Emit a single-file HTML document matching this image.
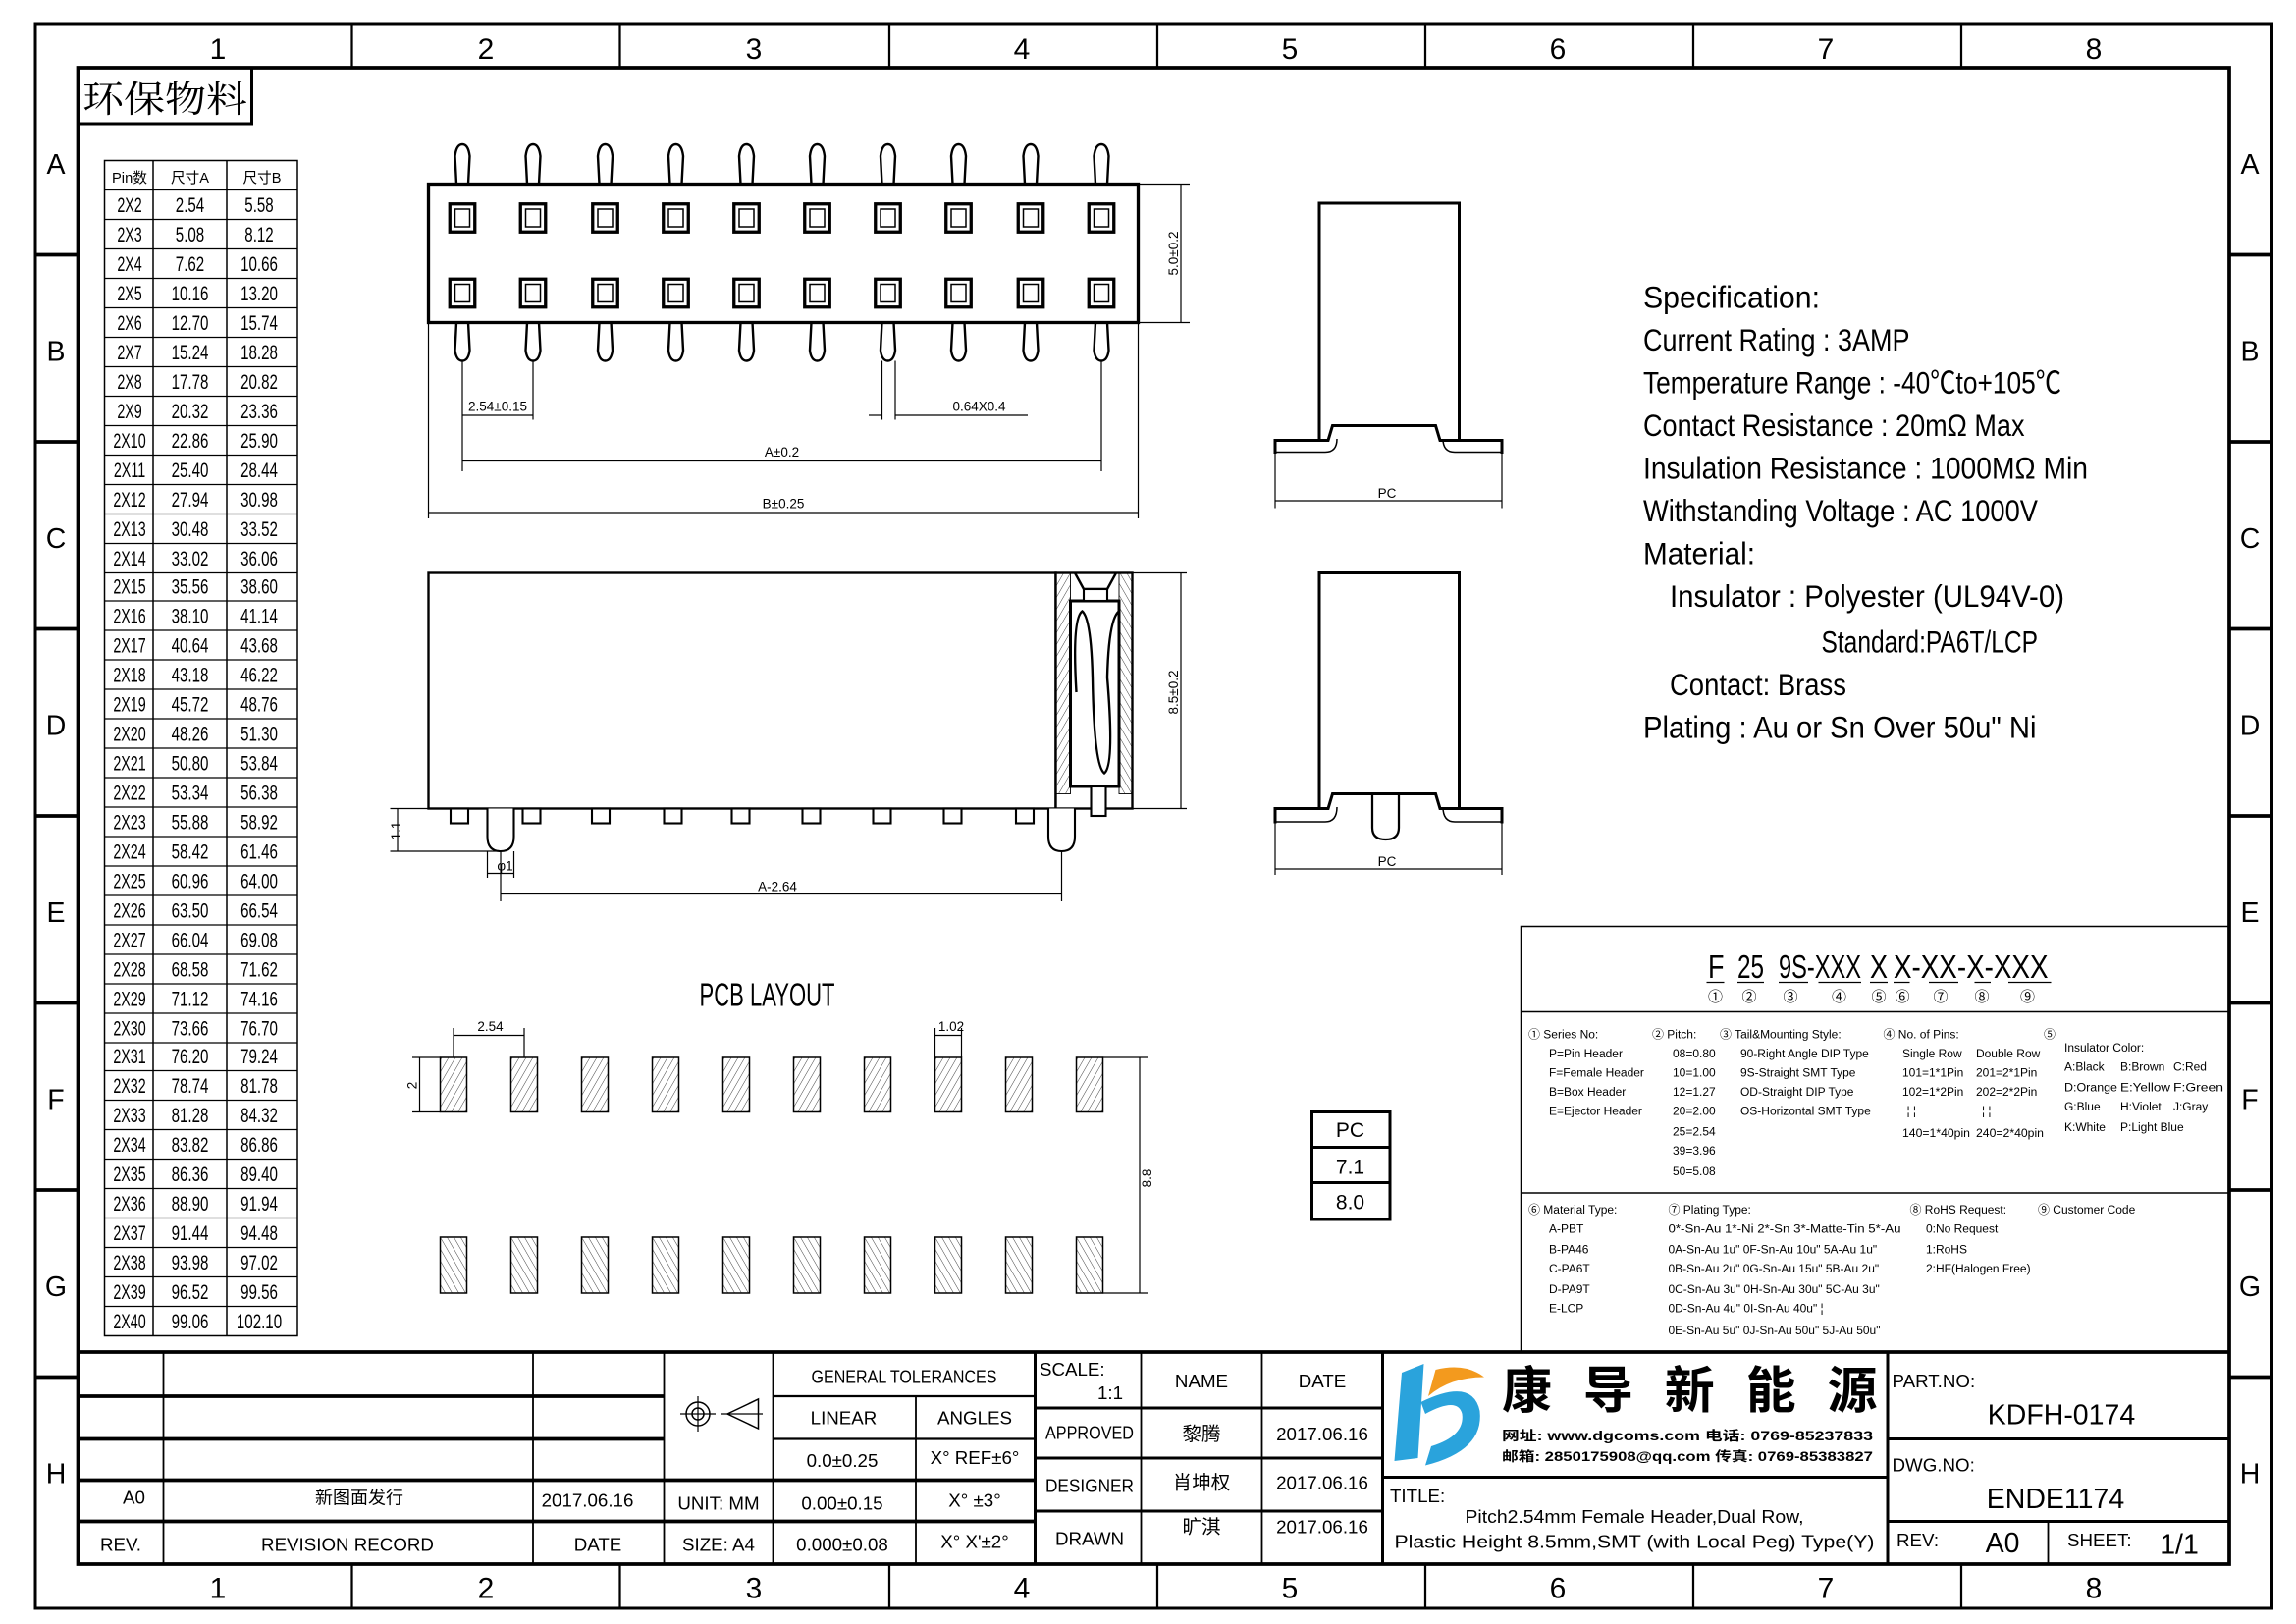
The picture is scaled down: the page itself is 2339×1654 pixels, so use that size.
<!DOCTYPE html>
<html><head><meta charset="utf-8"><style>
html,body{margin:0;padding:0;background:#fff}
svg{display:block}
text{font-family:"Liberation Sans Narrow","Liberation Sans","Noto Sans CJK SC",sans-serif;fill:#000}
.c{font-family:"Liberation Sans","Noto Sans CJK SC",sans-serif}
.m{text-anchor:middle}
</style></head><body>
<svg width="2339" height="1654" viewBox="0 0 1559.33 1102.67" xmlns="http://www.w3.org/2000/svg">
<defs>
<pattern id="h1" width="4" height="4" patternUnits="userSpaceOnUse" patternTransform="rotate(30)"><line x1="0" y1="0" x2="0" y2="4" stroke="#000" stroke-width="0.5"/></pattern>
<pattern id="h2" width="4" height="4" patternUnits="userSpaceOnUse" patternTransform="rotate(-30)"><line x1="0" y1="0" x2="0" y2="4" stroke="#000" stroke-width="0.5"/></pattern>
<g id="pinT"><path d="M-4,125 L-5,106 Q-4,98 0,98 Q4,98 5,106 L4,125" fill="#fff" stroke="#000" stroke-width="1.6"/></g>
<g id="pinB"><path d="M-4,219 L-5,238 Q-4,245 0,245 Q4,245 5,238 L4,219" fill="#fff" stroke="#000" stroke-width="1.6"/></g>
<g id="sq"><rect x="-8.5" y="-9.5" width="17" height="19" fill="#fff" stroke="#000" stroke-width="2.2"/><rect x="-5" y="-6" width="10" height="12" fill="none" stroke="#000" stroke-width="1"/></g>
<g id="padU"><rect x="-9" y="718" width="18" height="37" fill="url(#h1)" stroke="#000" stroke-width="1"/></g>
<g id="padL"><rect x="-9" y="840" width="18" height="38" fill="url(#h2)" stroke="#000" stroke-width="1"/></g>
<g id="sp"><rect x="0" y="549" width="12" height="10" fill="#fff" stroke="#000" stroke-width="1.4"/></g>
</defs>

<!-- frame -->
<rect x="24" y="16" width="1519" height="1076" fill="none" stroke="#000" stroke-width="2"/>
<rect x="53" y="46" width="1461" height="1016" fill="none" stroke="#000" stroke-width="2.5"/>
<g stroke="#000" stroke-width="1.5">
<line x1="239" y1="16" x2="239" y2="46"/><line x1="421" y1="16" x2="421" y2="46"/><line x1="604" y1="16" x2="604" y2="46"/><line x1="786" y1="16" x2="786" y2="46"/><line x1="968" y1="16" x2="968" y2="46"/><line x1="1150" y1="16" x2="1150" y2="46"/><line x1="1332" y1="16" x2="1332" y2="46"/>
<line x1="239" y1="1062" x2="239" y2="1092"/><line x1="421" y1="1062" x2="421" y2="1092"/><line x1="604" y1="1062" x2="604" y2="1092"/><line x1="786" y1="1062" x2="786" y2="1092"/><line x1="968" y1="1062" x2="968" y2="1092"/><line x1="1150" y1="1062" x2="1150" y2="1092"/><line x1="1332" y1="1062" x2="1332" y2="1092"/>
</g>
<g stroke="#000" stroke-width="2.5">
<line x1="24" y1="173" x2="53" y2="173"/><line x1="24" y1="300" x2="53" y2="300"/><line x1="24" y1="427" x2="53" y2="427"/><line x1="24" y1="554" x2="53" y2="554"/><line x1="24" y1="681" x2="53" y2="681"/><line x1="24" y1="808" x2="53" y2="808"/><line x1="24" y1="935" x2="53" y2="935"/>
<line x1="1514" y1="173" x2="1543" y2="173"/><line x1="1514" y1="300" x2="1543" y2="300"/><line x1="1514" y1="427" x2="1543" y2="427"/><line x1="1514" y1="554" x2="1543" y2="554"/><line x1="1514" y1="681" x2="1543" y2="681"/><line x1="1514" y1="808" x2="1543" y2="808"/><line x1="1514" y1="935" x2="1543" y2="935"/>
</g>
<g font-size="20">
<text x="148" y="40" class="m">1</text><text x="330" y="40" class="m">2</text><text x="512" y="40" class="m">3</text><text x="694" y="40" class="m">4</text><text x="876" y="40" class="m">5</text><text x="1058" y="40" class="m">6</text><text x="1240" y="40" class="m">7</text><text x="1422" y="40" class="m">8</text>
<text x="148" y="1085" class="m">1</text><text x="330" y="1085" class="m">2</text><text x="512" y="1085" class="m">3</text><text x="694" y="1085" class="m">4</text><text x="876" y="1085" class="m">5</text><text x="1058" y="1085" class="m">6</text><text x="1240" y="1085" class="m">7</text><text x="1422" y="1085" class="m">8</text>
</g>
<g font-size="19">
<text x="38" y="118" class="m">A</text><text x="38" y="245" class="m">B</text><text x="38" y="372" class="m">C</text><text x="38" y="499" class="m">D</text><text x="38" y="626" class="m">E</text><text x="38" y="753" class="m">F</text><text x="38" y="880" class="m">G</text><text x="38" y="1007" class="m">H</text>
<text x="1528" y="118" class="m">A</text><text x="1528" y="245" class="m">B</text><text x="1528" y="372" class="m">C</text><text x="1528" y="499" class="m">D</text><text x="1528" y="626" class="m">E</text><text x="1528" y="753" class="m">F</text><text x="1528" y="880" class="m">G</text><text x="1528" y="1007" class="m">H</text>
</g>

<!-- title stamp -->
<rect x="53" y="46" width="118" height="38" fill="none" stroke="#000" stroke-width="2"/>
<text x="56" y="76" font-size="25" class="c" textLength="112" lengthAdjust="spacingAndGlyphs" style="font-family:'Noto Serif CJK SC','Noto Sans CJK SC',serif">环保物料</text>

<!-- pin table -->
<g stroke="#000" stroke-width="1" fill="none">
<rect x="71" y="109" width="131" height="798"/>
<line x1="104" y1="109" x2="104" y2="907"/><line x1="154" y1="109" x2="154" y2="907"/>
</g>
<g stroke="#000" stroke-width="0.8">
<line x1="71" y1="129" x2="202" y2="129"/><line x1="71" y1="149" x2="202" y2="149"/><line x1="71" y1="169" x2="202" y2="169"/><line x1="71" y1="189" x2="202" y2="189"/><line x1="71" y1="209" x2="202" y2="209"/><line x1="71" y1="229" x2="202" y2="229"/><line x1="71" y1="249" x2="202" y2="249"/><line x1="71" y1="269" x2="202" y2="269"/><line x1="71" y1="289" x2="202" y2="289"/><line x1="71" y1="309" x2="202" y2="309"/><line x1="71" y1="329" x2="202" y2="329"/><line x1="71" y1="349" x2="202" y2="349"/><line x1="71" y1="369" x2="202" y2="369"/><line x1="71" y1="389" x2="202" y2="389"/><line x1="71" y1="408" x2="202" y2="408"/><line x1="71" y1="428" x2="202" y2="428"/><line x1="71" y1="448" x2="202" y2="448"/><line x1="71" y1="468" x2="202" y2="468"/><line x1="71" y1="488" x2="202" y2="488"/><line x1="71" y1="508" x2="202" y2="508"/><line x1="71" y1="528" x2="202" y2="528"/><line x1="71" y1="548" x2="202" y2="548"/><line x1="71" y1="568" x2="202" y2="568"/><line x1="71" y1="588" x2="202" y2="588"/><line x1="71" y1="608" x2="202" y2="608"/><line x1="71" y1="628" x2="202" y2="628"/><line x1="71" y1="648" x2="202" y2="648"/><line x1="71" y1="668" x2="202" y2="668"/><line x1="71" y1="688" x2="202" y2="688"/><line x1="71" y1="708" x2="202" y2="708"/><line x1="71" y1="727" x2="202" y2="727"/><line x1="71" y1="747" x2="202" y2="747"/><line x1="71" y1="767" x2="202" y2="767"/><line x1="71" y1="787" x2="202" y2="787"/><line x1="71" y1="807" x2="202" y2="807"/><line x1="71" y1="827" x2="202" y2="827"/><line x1="71" y1="847" x2="202" y2="847"/><line x1="71" y1="867" x2="202" y2="867"/><line x1="71" y1="887" x2="202" y2="887"/>
</g>
<g font-size="10" class="c">
<text x="88" y="124" class="m c" textLength="24" lengthAdjust="spacingAndGlyphs">Pin数</text><text x="129" y="124" class="m c" textLength="26" lengthAdjust="spacingAndGlyphs">尺寸A</text><text x="178" y="124" class="m c" textLength="26" lengthAdjust="spacingAndGlyphs">尺寸B</text>
</g>
<g font-size="14" transform="translate(88,0) scale(0.68,1)" text-anchor="middle">
<text x="0" y="144">2X2</text><text x="0" y="164">2X3</text><text x="0" y="184">2X4</text><text x="0" y="204">2X5</text><text x="0" y="224">2X6</text><text x="0" y="244">2X7</text><text x="0" y="264">2X8</text><text x="0" y="284">2X9</text><text x="0" y="304">2X10</text><text x="0" y="324">2X11</text><text x="0" y="344">2X12</text><text x="0" y="364">2X13</text><text x="0" y="384">2X14</text><text x="0" y="403">2X15</text><text x="0" y="423">2X16</text><text x="0" y="443">2X17</text><text x="0" y="463">2X18</text><text x="0" y="483">2X19</text><text x="0" y="503">2X20</text><text x="0" y="523">2X21</text><text x="0" y="543">2X22</text><text x="0" y="563">2X23</text><text x="0" y="583">2X24</text><text x="0" y="603">2X25</text><text x="0" y="623">2X26</text><text x="0" y="643">2X27</text><text x="0" y="663">2X28</text><text x="0" y="683">2X29</text><text x="0" y="703">2X30</text><text x="0" y="722">2X31</text><text x="0" y="742">2X32</text><text x="0" y="762">2X33</text><text x="0" y="782">2X34</text><text x="0" y="802">2X35</text><text x="0" y="822">2X36</text><text x="0" y="842">2X37</text><text x="0" y="862">2X38</text><text x="0" y="882">2X39</text><text x="0" y="902">2X40</text>
</g>
<g font-size="14" transform="translate(129,0) scale(0.72,1)" text-anchor="middle">
<text x="0" y="144">2.54</text><text x="0" y="164">5.08</text><text x="0" y="184">7.62</text><text x="0" y="204">10.16</text><text x="0" y="224">12.70</text><text x="0" y="244">15.24</text><text x="0" y="264">17.78</text><text x="0" y="284">20.32</text><text x="0" y="304">22.86</text><text x="0" y="324">25.40</text><text x="0" y="344">27.94</text><text x="0" y="364">30.48</text><text x="0" y="384">33.02</text><text x="0" y="403">35.56</text><text x="0" y="423">38.10</text><text x="0" y="443">40.64</text><text x="0" y="463">43.18</text><text x="0" y="483">45.72</text><text x="0" y="503">48.26</text><text x="0" y="523">50.80</text><text x="0" y="543">53.34</text><text x="0" y="563">55.88</text><text x="0" y="583">58.42</text><text x="0" y="603">60.96</text><text x="0" y="623">63.50</text><text x="0" y="643">66.04</text><text x="0" y="663">68.58</text><text x="0" y="683">71.12</text><text x="0" y="703">73.66</text><text x="0" y="722">76.20</text><text x="0" y="742">78.74</text><text x="0" y="762">81.28</text><text x="0" y="782">83.82</text><text x="0" y="802">86.36</text><text x="0" y="822">88.90</text><text x="0" y="842">91.44</text><text x="0" y="862">93.98</text><text x="0" y="882">96.52</text><text x="0" y="902">99.06</text>
</g>
<g font-size="14" transform="translate(176,0) scale(0.72,1)" text-anchor="middle">
<text x="0" y="144">5.58</text><text x="0" y="164">8.12</text><text x="0" y="184">10.66</text><text x="0" y="204">13.20</text><text x="0" y="224">15.74</text><text x="0" y="244">18.28</text><text x="0" y="264">20.82</text><text x="0" y="284">23.36</text><text x="0" y="304">25.90</text><text x="0" y="324">28.44</text><text x="0" y="344">30.98</text><text x="0" y="364">33.52</text><text x="0" y="384">36.06</text><text x="0" y="403">38.60</text><text x="0" y="423">41.14</text><text x="0" y="443">43.68</text><text x="0" y="463">46.22</text><text x="0" y="483">48.76</text><text x="0" y="503">51.30</text><text x="0" y="523">53.84</text><text x="0" y="543">56.38</text><text x="0" y="563">58.92</text><text x="0" y="583">61.46</text><text x="0" y="603">64.00</text><text x="0" y="623">66.54</text><text x="0" y="643">69.08</text><text x="0" y="663">71.62</text><text x="0" y="683">74.16</text><text x="0" y="703">76.70</text><text x="0" y="722">79.24</text><text x="0" y="742">81.78</text><text x="0" y="762">84.32</text><text x="0" y="782">86.86</text><text x="0" y="802">89.40</text><text x="0" y="822">91.94</text><text x="0" y="842">94.48</text><text x="0" y="862">97.02</text><text x="0" y="882">99.56</text><text x="0" y="902">102.10</text>
</g>

<!-- top view -->
<g>
<use href="#pinT" x="314"/><use href="#pinT" x="362"/><use href="#pinT" x="411"/><use href="#pinT" x="459"/><use href="#pinT" x="507"/><use href="#pinT" x="555"/><use href="#pinT" x="603"/><use href="#pinT" x="651"/><use href="#pinT" x="700"/><use href="#pinT" x="748"/>
<use href="#pinB" x="314"/><use href="#pinB" x="362"/><use href="#pinB" x="411"/><use href="#pinB" x="459"/><use href="#pinB" x="507"/><use href="#pinB" x="555"/><use href="#pinB" x="603"/><use href="#pinB" x="651"/><use href="#pinB" x="700"/><use href="#pinB" x="748"/>
<rect x="291" y="125" width="482" height="94" fill="#fff" stroke="#000" stroke-width="2.2"/>
<use href="#sq" x="314" y="148"/><use href="#sq" x="362" y="148"/><use href="#sq" x="411" y="148"/><use href="#sq" x="459" y="148"/><use href="#sq" x="507" y="148"/><use href="#sq" x="555" y="148"/><use href="#sq" x="603" y="148"/><use href="#sq" x="651" y="148"/><use href="#sq" x="700" y="148"/><use href="#sq" x="748" y="148"/>
<use href="#sq" x="314" y="199"/><use href="#sq" x="362" y="199"/><use href="#sq" x="411" y="199"/><use href="#sq" x="459" y="199"/><use href="#sq" x="507" y="199"/><use href="#sq" x="555" y="199"/><use href="#sq" x="603" y="199"/><use href="#sq" x="651" y="199"/><use href="#sq" x="700" y="199"/><use href="#sq" x="748" y="199"/>
</g>
<g stroke="#000" stroke-width="0.8" fill="none">
<line x1="773" y1="125" x2="808" y2="125"/><line x1="773" y1="219" x2="808" y2="219"/><line x1="802" y1="125" x2="802" y2="219"/>
<line x1="314" y1="245" x2="314" y2="320"/><line x1="362" y1="245" x2="362" y2="285"/><line x1="314" y1="282" x2="362" y2="282"/>
<line x1="599" y1="245" x2="599" y2="285"/><line x1="608" y1="245" x2="608" y2="285"/><line x1="590" y1="282" x2="599" y2="282"/><line x1="608" y1="282" x2="698" y2="282"/>
<line x1="748" y1="245" x2="748" y2="320"/><line x1="314" y1="313" x2="748" y2="313"/>
<line x1="291" y1="219" x2="291" y2="352"/><line x1="773" y1="219" x2="773" y2="352"/><line x1="291" y1="348" x2="773" y2="348"/>
</g>
<g font-size="9">
<text x="338" y="279" class="m">2.54±0.15</text><text x="665" y="279" class="m">0.64X0.4</text><text x="531" y="310" class="m">A±0.2</text><text x="532" y="345" class="m">B±0.25</text>
<text transform="translate(800,172) rotate(-90)" class="m">5.0±0.2</text>
</g>

<!-- side view -->
<g stroke="#000" fill="#fff">
<rect x="291" y="389" width="426" height="160" stroke-width="1.6"/>
<rect x="717" y="389" width="52" height="160" stroke-width="1.6"/>
<rect x="717" y="389" width="10" height="150" fill="url(#h1)" stroke-width="0.6"/>
<rect x="760" y="389" width="9" height="150" fill="url(#h2)" stroke-width="0.6"/>
<rect x="727" y="408" width="33" height="126" stroke-width="2"/>
<path d="M731,470 Q728,420 735,415 Q741,420 742,460 Q743,520 750,525 Q757,520 752,460 Q753,420 760,415" fill="none" stroke-width="1.6"/>
<path d="M730,389 L736,400 L752,400 L758,389" fill="none" stroke-width="1.6"/>
<rect x="736" y="400" width="16" height="8" stroke-width="1.4"/>
<rect x="741" y="534" width="10" height="20" stroke-width="1.4"/>
<use href="#sp" x="306"/><use href="#sp" x="355"/><use href="#sp" x="402"/><use href="#sp" x="451"/><use href="#sp" x="497"/><use href="#sp" x="545"/><use href="#sp" x="593"/><use href="#sp" x="641"/><use href="#sp" x="690"/>
<path d="M331,549 L331,568 Q331,578 340,578 Q349,578 349,568 L349,549" stroke-width="1.4"/>
<path d="M712,549 L712,568 Q712,578 721,578 Q730,578 730,568 L730,549" stroke-width="1.4"/>
</g>
<g stroke="#000" stroke-width="0.8" fill="none">
<line x1="769" y1="389" x2="806" y2="389"/><line x1="769" y1="549" x2="806" y2="549"/><line x1="802" y1="389" x2="802" y2="549"/>
<line x1="265" y1="549" x2="291" y2="549"/><line x1="265" y1="578" x2="340" y2="578"/><line x1="270" y1="549" x2="270" y2="578"/>
<line x1="331" y1="578" x2="331" y2="596"/><line x1="349" y1="578" x2="349" y2="596"/><line x1="331" y1="593" x2="349" y2="593"/>
<line x1="340" y1="578" x2="340" y2="612"/><line x1="721" y1="578" x2="721" y2="612"/><line x1="340" y1="607" x2="721" y2="607"/>
</g>
<g font-size="9">
<text transform="translate(800,470) rotate(-90)" class="m">8.5±0.2</text>
<text transform="translate(272,564) rotate(-90)" class="m">1.1</text>
<text x="343" y="591" class="m">φ1</text>
<text x="528" y="605" class="m">A-2.64</text>
</g>

<!-- end views -->
<g stroke="#000" fill="none" stroke-width="2">
<path d="M896,299 L896,138 L991,138 L991,299 L978,299 L975,289 L905,289 L902,299 Z"/>
<path d="M866,299 L896,299 M991,299 L1020,299"/>
<path d="M866,307 L900,307 Q908,307 908,298 M980,298 Q980,307 988,307 L1020,307" stroke-width="1"/>
<line x1="866" y1="298" x2="866" y2="308"/><line x1="1020" y1="298" x2="1020" y2="308"/>
<path d="M896,549 L896,389 L991,389 L991,549 L978,549 L975,539 L905,539 L902,549 Z"/>
<path d="M866,549 L896,549 M991,549 L1020,549"/>
<path d="M866,558 L900,558 Q908,558 908,548 M980,548 Q980,558 988,558 L1020,558" stroke-width="1"/>
<line x1="866" y1="548" x2="866" y2="559"/><line x1="1020" y1="548" x2="1020" y2="559"/>
<path d="M932,539 L932,562 Q932,570 941,570 Q950,570 950,562 L950,539" stroke-width="1.5"/>
</g>
<g stroke="#000" stroke-width="0.8">
<line x1="866" y1="308" x2="866" y2="345"/><line x1="1020" y1="308" x2="1020" y2="345"/><line x1="866" y1="340" x2="1020" y2="340"/>
<line x1="866" y1="559" x2="866" y2="594"/><line x1="1020" y1="559" x2="1020" y2="594"/><line x1="866" y1="590" x2="1020" y2="590"/>
</g>
<text x="942" y="338" font-size="9" class="m">PC</text>
<text x="942" y="588" font-size="9" class="m">PC</text>

<!-- spec -->
<g font-size="21">
<text x="1116" y="209" textLength="120" lengthAdjust="spacingAndGlyphs">Specification:</text>
<text x="1116" y="238" textLength="181" lengthAdjust="spacingAndGlyphs">Current Rating : 3AMP</text>
<text x="1116" y="267" textLength="284" lengthAdjust="spacingAndGlyphs">Temperature Range : -40℃to+105℃</text>
<text x="1116" y="296" textLength="259" lengthAdjust="spacingAndGlyphs">Contact Resistance : 20mΩ Max</text>
<text x="1116" y="325" textLength="302" lengthAdjust="spacingAndGlyphs">Insulation Resistance : 1000MΩ Min</text>
<text x="1116" y="354" textLength="268" lengthAdjust="spacingAndGlyphs">Withstanding Voltage : AC 1000V</text>
<text x="1116" y="383" textLength="76" lengthAdjust="spacingAndGlyphs">Material:</text>
<text x="1134" y="412" textLength="268" lengthAdjust="spacingAndGlyphs">Insulator : Polyester (UL94V-0)</text>
<text x="1237" y="443" textLength="147" lengthAdjust="spacingAndGlyphs">Standard:PA6T/LCP</text>
<text x="1134" y="472" textLength="120" lengthAdjust="spacingAndGlyphs">Contact: Brass</text>
<text x="1116" y="501" textLength="267" lengthAdjust="spacingAndGlyphs">Plating : Au or Sn Over 50u" Ni</text>
</g>

<!-- part number block -->
<rect x="1033" y="629" width="481" height="289" fill="none" stroke="#000" stroke-width="1"/>
<line x1="1033" y1="687" x2="1514" y2="687" stroke="#000" stroke-width="1"/>
<line x1="1033" y1="810" x2="1514" y2="810" stroke="#000" stroke-width="1"/>
<g font-size="22">
<text x="1160" y="664" textLength="11" lengthAdjust="spacingAndGlyphs">F</text>
<text x="1180" y="664" textLength="18" lengthAdjust="spacingAndGlyphs">25</text>
<text x="1208" y="664" textLength="56" lengthAdjust="spacingAndGlyphs">9S-XXX</text>
<text x="1270" y="664" textLength="12" lengthAdjust="spacingAndGlyphs">X</text>
<text x="1286" y="664" textLength="105" lengthAdjust="spacingAndGlyphs">X-XX-X-XXX</text>
</g>
<g stroke="#000" stroke-width="0.8">
<line x1="1159" y1="667" x2="1171" y2="667"/><line x1="1180" y1="667" x2="1198" y2="667"/><line x1="1208" y1="667" x2="1228" y2="667"/><line x1="1235" y1="667" x2="1264" y2="667"/><line x1="1270" y1="667" x2="1282" y2="667"/><line x1="1286" y1="667" x2="1297" y2="667"/><line x1="1310" y1="667" x2="1330" y2="667"/><line x1="1341" y1="667" x2="1352" y2="667"/><line x1="1364" y1="667" x2="1393" y2="667"/>
</g>
<g font-size="10" class="c">
<text x="1165" y="680" class="m c">①</text><text x="1188" y="680" class="m c">②</text><text x="1216" y="680" class="m c">③</text><text x="1249" y="680" class="m c">④</text><text x="1276" y="680" class="m c">⑤</text><text x="1292" y="680" class="m c">⑥</text><text x="1318" y="680" class="m c">⑦</text><text x="1346" y="680" class="m c">⑧</text><text x="1377" y="680" class="m c">⑨</text>
</g>
<g font-size="8">
<text x="1038" y="705">① Series No:</text>
<text x="1052" y="718">P=Pin Header</text><text x="1052" y="731">F=Female Header</text><text x="1052" y="744">B=Box Header</text><text x="1052" y="757">E=Ejector Header</text>
<text x="1122" y="705">② Pitch:</text>
<text x="1136" y="718">08=0.80</text><text x="1136" y="731">10=1.00</text><text x="1136" y="744">12=1.27</text><text x="1136" y="757">20=2.00</text><text x="1136" y="771">25=2.54</text><text x="1136" y="784">39=3.96</text><text x="1136" y="798">50=5.08</text>
<text x="1168" y="705">③ Tail&amp;Mounting Style:</text>
<text x="1182" y="718">90-Right Angle DIP Type</text><text x="1182" y="731">9S-Straight SMT Type</text><text x="1182" y="744">OD-Straight DIP Type</text><text x="1182" y="757">OS-Horizontal SMT Type</text>
<text x="1279" y="705">④ No. of Pins:</text>
<text x="1292" y="718">Single Row</text><text x="1342" y="718">Double Row</text>
<text x="1292" y="731">101=1*1Pin</text><text x="1342" y="731">201=2*1Pin</text>
<text x="1292" y="744">102=1*2Pin</text><text x="1342" y="744">202=2*2Pin</text>
<text x="1295" y="757">¦  ¦</text><text x="1346" y="757">¦  ¦</text>
<text x="1292" y="772" textLength="46" lengthAdjust="spacingAndGlyphs">140=1*40pin</text><text x="1342" y="772" textLength="46" lengthAdjust="spacingAndGlyphs">240=2*40pin</text>
<text x="1388" y="705">⑤</text>
<text x="1402" y="714">Insulator Color:</text>
<text x="1402" y="727">A:Black</text><text x="1440" y="727">B:Brown</text><text x="1476" y="727">C:Red</text>
<text x="1402" y="741" textLength="36" lengthAdjust="spacingAndGlyphs">D:Orange</text><text x="1440" y="741" textLength="34" lengthAdjust="spacingAndGlyphs">E:Yellow</text><text x="1476" y="741" textLength="34" lengthAdjust="spacingAndGlyphs">F:Green</text>
<text x="1402" y="754">G:Blue</text><text x="1440" y="754">H:Violet</text><text x="1476" y="754">J:Gray</text>
<text x="1402" y="768">K:White</text><text x="1440" y="768">P:Light Blue</text>
<text x="1038" y="824">⑥ Material Type:</text>
<text x="1052" y="837">A-PBT</text><text x="1052" y="851">B-PA46</text><text x="1052" y="864">C-PA6T</text><text x="1052" y="878">D-PA9T</text><text x="1052" y="891">E-LCP</text>
<text x="1133" y="824">⑦ Plating Type:</text>
<text x="1133" y="837" textLength="158" lengthAdjust="spacingAndGlyphs">0*-Sn-Au 1*-Ni 2*-Sn 3*-Matte-Tin 5*-Au</text>
<text x="1133" y="851">0A-Sn-Au 1u" 0F-Sn-Au 10u"  5A-Au 1u"</text>
<text x="1133" y="864">0B-Sn-Au 2u" 0G-Sn-Au 15u"  5B-Au 2u"</text>
<text x="1133" y="878">0C-Sn-Au 3u" 0H-Sn-Au 30u"  5C-Au 3u"</text>
<text x="1133" y="891">0D-Sn-Au 4u" 0I-Sn-Au 40u"      ¦</text>
<text x="1133" y="906">0E-Sn-Au 5u" 0J-Sn-Au 50u"  5J-Au 50u"</text>
<text x="1297" y="824">⑧ RoHS Request:</text>
<text x="1308" y="837">0:No Request</text><text x="1308" y="851">1:RoHS</text><text x="1308" y="864">2:HF(Halogen Free)</text>
<text x="1384" y="824">⑨ Customer Code</text>
</g>

<!-- PCB layout -->
<text x="521" y="683" font-size="22" class="m" textLength="92" lengthAdjust="spacingAndGlyphs">PCB LAYOUT</text>
<use href="#padU" x="308"/><use href="#padU" x="356"/><use href="#padU" x="404"/><use href="#padU" x="452"/><use href="#padU" x="500"/><use href="#padU" x="548"/><use href="#padU" x="596"/><use href="#padU" x="644"/><use href="#padU" x="692"/><use href="#padU" x="740"/>
<use href="#padL" x="308"/><use href="#padL" x="356"/><use href="#padL" x="404"/><use href="#padL" x="452"/><use href="#padL" x="500"/><use href="#padL" x="548"/><use href="#padL" x="596"/><use href="#padL" x="644"/><use href="#padL" x="692"/><use href="#padL" x="740"/>
<g stroke="#000" stroke-width="0.8">
<line x1="308" y1="718" x2="308" y2="698"/><line x1="356" y1="718" x2="356" y2="698"/><line x1="308" y1="703" x2="356" y2="703"/>
<line x1="635" y1="718" x2="635" y2="698"/><line x1="653" y1="718" x2="653" y2="698"/><line x1="635" y1="703" x2="653" y2="703"/>
<line x1="280" y1="718" x2="299" y2="718"/><line x1="280" y1="755" x2="299" y2="755"/><line x1="285" y1="718" x2="285" y2="755"/>
<line x1="749" y1="718" x2="780" y2="718"/><line x1="749" y1="878" x2="780" y2="878"/><line x1="774" y1="718" x2="774" y2="878"/>
</g>
<g font-size="9">
<text x="333" y="700" class="m">2.54</text><text x="646" y="700" class="m">1.02</text>
<text transform="translate(283,737) rotate(-90)" class="m">2</text>
<text transform="translate(782,800) rotate(-90)" class="m">8.8</text>
</g>
<!-- PC table -->
<rect x="891" y="755" width="53" height="73" fill="none" stroke="#000" stroke-width="2"/>
<line x1="891" y1="779" x2="944" y2="779" stroke="#000" stroke-width="2"/><line x1="891" y1="803" x2="944" y2="803" stroke="#000" stroke-width="2"/>
<g font-size="14" class="c"><text x="917" y="772" class="m c">PC</text><text x="917" y="797" class="m c">7.1</text><text x="917" y="821" class="m c">8.0</text></g>

<!-- title block -->
<g stroke="#000" fill="none">
<line x1="53" y1="918" x2="1514" y2="918" stroke-width="2.5"/>
<line x1="53" y1="948" x2="451" y2="948" stroke-width="2.5"/><line x1="53" y1="977" x2="451" y2="977" stroke-width="2.5"/><line x1="53" y1="1005" x2="703" y2="1005" stroke-width="2.5"/><line x1="53" y1="1033" x2="703" y2="1033" stroke-width="2.5"/>
<line x1="525" y1="948" x2="703" y2="948" stroke-width="1.5"/><line x1="525" y1="977" x2="703" y2="977" stroke-width="1.5"/>
<line x1="703" y1="956" x2="939" y2="956" stroke-width="2"/><line x1="703" y1="990" x2="939" y2="990" stroke-width="2"/><line x1="703" y1="1026" x2="939" y2="1026" stroke-width="2"/>
<line x1="939" y1="1003" x2="1282" y2="1003" stroke-width="2"/>
<line x1="1282" y1="977" x2="1514" y2="977" stroke-width="2"/><line x1="1282" y1="1033" x2="1514" y2="1033" stroke-width="2"/>
<line x1="111" y1="918" x2="111" y2="1062" stroke-width="1.2"/><line x1="362" y1="918" x2="362" y2="1062" stroke-width="1.2"/><line x1="451" y1="918" x2="451" y2="1062" stroke-width="1.2"/><line x1="525" y1="918" x2="525" y2="1062" stroke-width="1.2"/><line x1="622" y1="948" x2="622" y2="1062" stroke-width="1.2"/><line x1="703" y1="918" x2="703" y2="1062" stroke-width="2"/><line x1="775" y1="918" x2="775" y2="1062" stroke-width="1.2"/><line x1="857" y1="918" x2="857" y2="1062" stroke-width="1.2"/><line x1="939" y1="918" x2="939" y2="1062" stroke-width="2"/><line x1="1282" y1="918" x2="1282" y2="1062" stroke-width="2"/><line x1="1391" y1="1033" x2="1391" y2="1062" stroke-width="1.2"/>
<circle cx="474" cy="960" r="8" stroke-width="1"/><circle cx="474" cy="960" r="4" stroke-width="1"/><line x1="462" y1="960" x2="486" y2="960" stroke-width="0.8"/><line x1="474" y1="948" x2="474" y2="972" stroke-width="0.8"/>
<path d="M494,960 L515,950 L515,970 Z" stroke-width="1"/><line x1="490" y1="960" x2="518" y2="960" stroke-width="0.8"/>
</g>
<g font-size="12.5">
<text x="614" y="939" class="m" textLength="126" lengthAdjust="spacingAndGlyphs">GENERAL TOLERANCES</text>
<text x="573" y="967" class="m">LINEAR</text><text x="662" y="967" class="m">ANGLES</text>
<text x="572" y="996" class="m">0.0±0.25</text><text x="662" y="994" class="m">X° REF±6°</text>
<text x="572" y="1025" class="m">0.00±0.15</text><text x="662" y="1023" class="m">X° ±3°</text>
<text x="572" y="1053" class="m">0.000±0.08</text><text x="662" y="1051" class="m">X° X'±2°</text>
<text x="706" y="934">SCALE:</text><text x="754" y="950" class="m">1:1</text>
<text x="816" y="942" class="m">NAME</text><text x="898" y="942" class="m">DATE</text>
<text x="740" y="977" class="m" textLength="60" lengthAdjust="spacingAndGlyphs">APPROVED</text><text x="740" y="1013" class="m" textLength="60" lengthAdjust="spacingAndGlyphs">DESIGNER</text><text x="740" y="1049" class="m">DRAWN</text>
<text x="898" y="978" class="m">2017.06.16</text><text x="898" y="1011" class="m">2017.06.16</text><text x="898" y="1041" class="m">2017.06.16</text>
<text x="91" y="1021" class="m">A0</text><text x="399" y="1023" class="m">2017.06.16</text>
<text x="82" y="1053" class="m">REV.</text><text x="236" y="1053" class="m">REVISION RECORD</text><text x="406" y="1053" class="m">DATE</text>
<text x="488" y="1025" class="m">UNIT: MM</text><text x="488" y="1053" class="m">SIZE: A4</text>
<text x="944" y="1020">TITLE:</text>
<text x="1110" y="1034" class="m" textLength="230" lengthAdjust="spacingAndGlyphs">Pitch2.54mm Female Header,Dual Row,</text>
<text x="1110" y="1051" class="m" textLength="326" lengthAdjust="spacingAndGlyphs">Plastic Height 8.5mm,SMT (with Local Peg) Type(Y)</text>
<text x="1285" y="942">PART.NO:</text>
<text x="1285" y="999">DWG.NO:</text>
<text x="1288" y="1050">REV:</text><text x="1404" y="1050">SHEET:</text>
</g>
<g font-size="13" class="c">
<text x="816" y="978" class="m c">黎腾</text><text x="816" y="1011" class="m c">肖坤权</text><text x="816" y="1041" class="m c">旷淇</text>
<text x="244" y="1021" class="m c" font-size="12">新图面发行</text>
</g>
<g font-size="19">
<text x="1400" y="967" class="m">KDFH-0174</text>
<text x="1396" y="1024" class="m">ENDE1174</text>
<text x="1360" y="1054" class="m">A0</text><text x="1480" y="1055" class="m">1/1</text>
</g>
<!-- logo -->
<path d="M952,932 L967,926 L963,990 L947,992 Z" fill="#2aa3dc"/>
<path d="M965,952 Q1000,935 1005,958 Q1008,985 968,995 L972,982 Q995,975 993,960 Q990,948 968,960 Z" fill="#2aa3dc"/>
<path d="M975,930 Q995,925 1008,935 Q985,935 970,948 Z" fill="#f39a1e"/>
<text x="1020" y="956" font-size="34" class="c" textLength="255" lengthAdjust="spacing" font-weight="bold">康导新能源</text>
<g font-size="9" font-weight="bold" class="c"><text x="1020" y="978" class="c" textLength="252" lengthAdjust="spacingAndGlyphs">网址: www.dgcoms.com   电话: 0769-85237833</text>
<text x="1020" y="992" class="c" textLength="252" lengthAdjust="spacingAndGlyphs">邮箱: 2850175908@qq.com  传真: 0769-85383827</text></g>
</svg>
</body></html>
